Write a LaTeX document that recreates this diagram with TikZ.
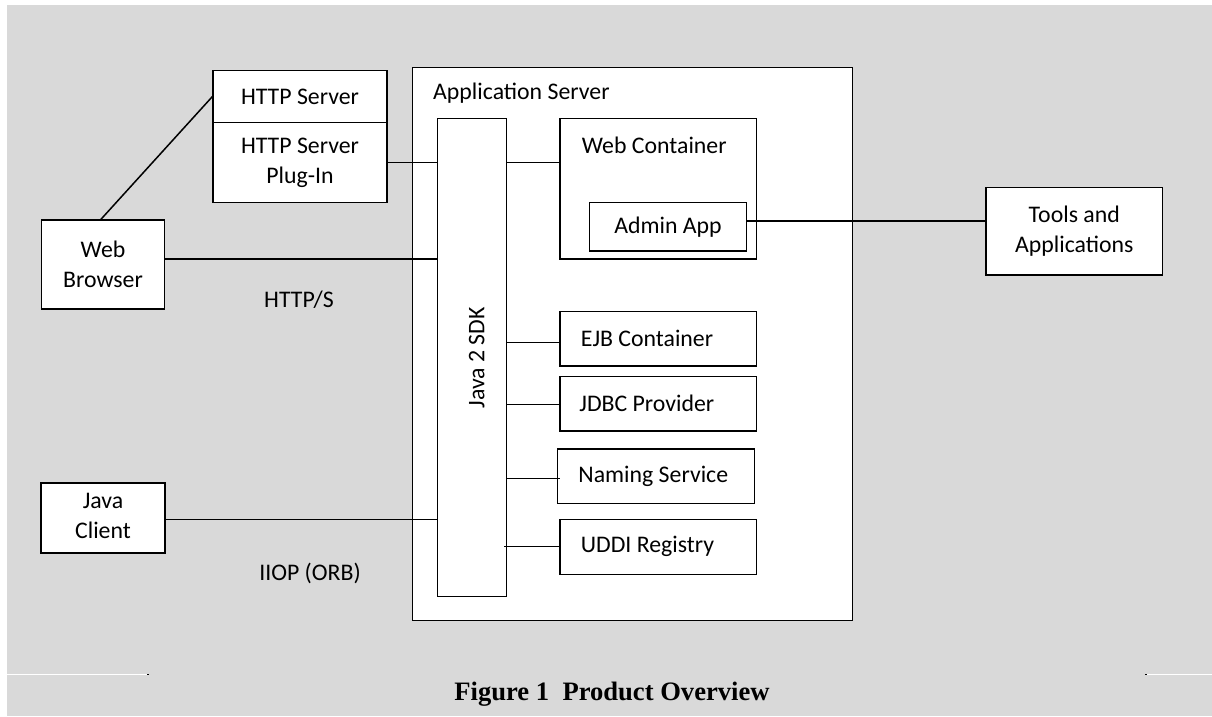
\documentclass[tikz,border=0pt]{standalone}
\usepackage{fontspec}
\setmainfont{Carlito}
\newfontfamily\capfont{Liberation Serif}
\definecolor{bggray}{HTML}{D9D9D9}
\begin{document}
\begin{tikzpicture}[x=1pt,y=-1pt,
  every node/.style={font=\fontsize{23.8}{29}\selectfont},
  box/.style={draw=black, fill=white, line width=1.5pt, inner sep=0pt, align=center},
  svc/.style={box, minimum width=196.7pt},
  conn/.style={line width=1.5pt},
  lbl/.style={inner sep=0pt}]
\useasboundingbox (0,0) rectangle (1212,716);
\fill[white] (0,0) rectangle (1212,716);
\fill[bggray] (7,5) rectangle (1212,716);
% caption rule fragments
\draw[white, line width=1pt] (7,674.3) -- (146.5,674.3);
\fill[black] (147,673.6) rectangle (149.2,675);
\fill[black] (1145,673.6) rectangle (1147.2,675);
\draw[white, line width=1pt] (1147.2,674.3) -- (1212,674.3);

% application server
\node[box, minimum width=440pt, minimum height=553.4pt] (app) at (632.3,344) {};
\node[lbl, anchor=west] (applbl) at (433,93) {Application Server};

% Java SDK
\node[box, minimum width=69pt, minimum height=478.4pt] (sdk) at (472.2,357.5) {};
\node[lbl, rotate=90] (sdklbl) at (476.7,358) {Java 2 SDK};

% web container
\node[box, minimum width=196.7pt, minimum height=140.7pt] (webc) at (658.3,188.7) {};
\node[lbl, anchor=west] (webclbl) at (581.7,145) {Web Container};
\node[box, minimum width=157.4pt, minimum height=48.3pt] (admin) at (668,226.8) {Admin App};

% service boxes
\node[svc, minimum height=54.3pt] (ejb) at (658.3,338.8) {};
\node[lbl, anchor=west] (ejblbl) at ([xshift=21.5pt]ejb.west) {EJB Container};
\node[svc, minimum height=54.3pt] (jdbc) at (658.3,403.8) {};
\node[lbl, anchor=west] (jdbclbl) at ([xshift=20pt]jdbc.west) {JDBC Provider};
\node[svc, minimum height=54.3pt] (naming) at (656,476.2) {};
\node[lbl, anchor=west] (naminglbl) at ([xshift=21.3pt]naming.west) {Naming Service};
\node[svc, minimum height=55pt] (uddi) at (658.3,546.8) {};
\node[lbl, anchor=west] (uddilbl) at ([xshift=21.5pt]uddi.west) {UDDI Registry};

% HTTP server
\node[box, minimum width=174pt, minimum height=52pt] (http) at (300,96.7) {HTTP Server};
\node[box, minimum width=174pt, minimum height=80pt] (plugin) at (300,162.7) {HTTP Server\\[1pt]Plug-In};

% clients
\node[box, minimum width=122.6pt, minimum height=89pt] (browser) at (103,264.5) {Web\\[1pt]Browser};
\node[box, minimum width=124pt, minimum height=70pt] (jclient) at (103,518) {};
\node[lbl, align=center] (jclientlbl) at (103,516) {Java\\[1pt]Client};
\node[box, minimum width=176.7pt, minimum height=87.7pt] (tools) at (1074.3,231.2) {Tools and\\[1pt]Applications};

% connector labels
\node[lbl] (httpslbl) at (299,300) {HTTP/S};
\node[lbl] (iioplbl) at (310,573) {IIOP (ORB)};

% connectors
\draw[conn] ([xshift=-2pt]browser.north) -- (http.west);
\draw[conn] (plugin.east) -- (plugin.east -| sdk.west);
\draw[conn] (sdk.east |- plugin.east) -- (webc.west |- plugin.east);
\draw[conn] (browser.east |- 0,259) -- (sdk.west |- 0,259);
\draw[conn] (admin.east |- 0,221) -- (tools.west |- 0,221);
\draw[conn] (sdk.east |- 0,342.3) -- (ejb.west |- 0,342.3);
\draw[conn] (sdk.east |- 0,404.3) -- (jdbc.west |- 0,404.3);
\draw[conn] (sdk.east |- 0,478.3) -- ([xshift=3pt]naming.west |- 0,478.3);
\draw[conn] ([xshift=-3pt]sdk.east |- 0,546.7) -- (uddi.west |- 0,546.7);
\draw[conn] (jclient.east |- 0,519.3) -- (sdk.west |- 0,519.3);

% caption
\node[lbl, anchor=base, font=\capfont\bfseries\fontsize{26.6}{30}\selectfont] (cap) at (612,700) {Figure 1\ \ Product Overview};
\end{tikzpicture}
\end{document}
